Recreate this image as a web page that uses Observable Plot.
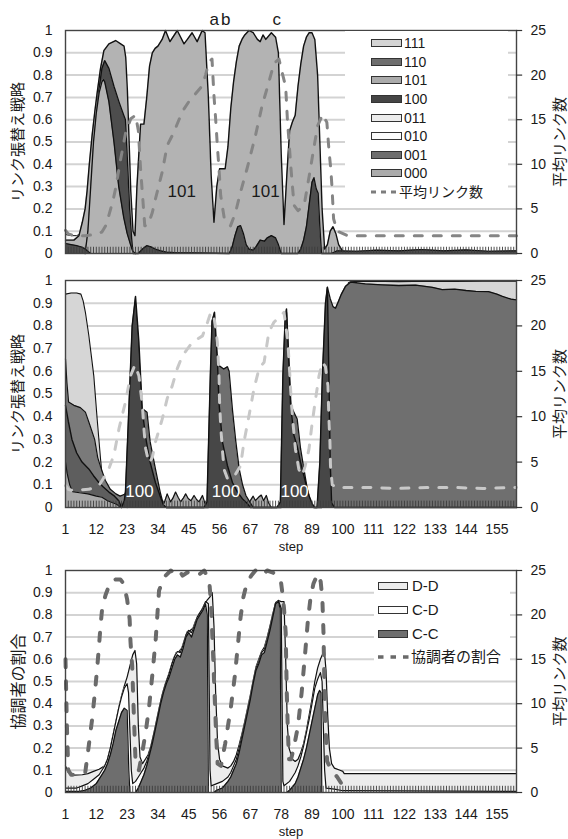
<!DOCTYPE html>
<html><head><meta charset="utf-8">
<script src="https://cdn.jsdelivr.net/npm/d3@7"></script>
<script src="https://cdn.jsdelivr.net/npm/@observablehq/plot@0.6"></script>
<style>
body{margin:0;background:#fff;}
#c{position:relative;width:568px;height:839px;background:#fff;overflow:hidden;font-family:"Liberation Sans","Noto Sans CJK JP",sans-serif;color:#1a1a1a;}
.leg{position:absolute;background:#fff;}
.lt{position:absolute;white-space:nowrap;line-height:16px;}
.sw{position:absolute;border:1px solid #333;box-sizing:border-box;}
</style></head><body><div id="c"></div><script>
// ---------- axes / ticks ----------
const yTicks = [0,0.1,0.2,0.3,0.4,0.5,0.6,0.7,0.8,0.9,1];
const yTickLabels = ["0","0.1","0.2","0.3","0.4","0.5","0.6","0.7","0.8","0.9","1"];
const gridVals = [0.1,0.2,0.3,0.4,0.5,0.6,0.7,0.8,0.9];
const rightTicks = [0,5,10,15,20,25];
const xTicks = [1,12,23,34,45,56,67,78,89,100,111,122,133,144,155];

// ---------- panel 1 (strategy shares, [step, value]) ----------
const p1_010 = [[1,0.085],[3,0.08],[5,0.08],[6.5,0.09],[8,0.05],[9,0]];
const p1_101 = [[1,0.06],[4,0.06],[5.8,0.08],[7,0.14],[8,0.2],[8.7,0.28],[9.5,0.4],[10.5,0.53],[11.5,0.64],[12.3,0.72],[13.5,0.83],[14.7,0.91],[16.5,0.94],[18.9,0.955],[20.7,0.94],[21.9,0.93],[22.5,0.88],[23.1,0.73],[24.3,0.28],[25.1,0.1],[25.8,0.08],[26.5,0.3],[27.8,0.58],[29,0.58],[30,0.7],[31,0.84],[32,0.9],[33,0.92],[34,0.93],[35.5,0.96],[36.7,1.0],[38.3,0.95],[40.9,1.0],[43.3,0.94],[44.5,0.96],[46.2,0.99],[48,0.95],[49.8,1.0],[50.8,0.99],[52,0.7],[53,0.35],[54,0.14],[55,0.3],[56,0.38],[58,0.38],[59,0.48],[60,0.65],[61,0.77],[62,0.86],[63,0.93],[64,0.96],[65,0.98],[66.5,1.0],[68,0.99],[69.5,0.96],[70.5,0.95],[71.5,0.98],[72.5,0.96],[74.5,0.99],[76,0.97],[77,0.9],[78,0.45],[79,0.13],[80,0.35],[81,0.55],[82,0.59],[83,0.62],[84,0.75],[85,0.85],[86,0.93],[87,0.97],[88,0.99],[89,0.99],[90,0.96],[91,0.8],[91.8,0.5],[92.6,0.2],[93.5,0.02],[94.5,0.04],[95.5,0.1],[96.5,0.12],[97.5,0.09],[98.5,0.04],[100,0.01],[101,0.005],[162,0.005]];
const p1_100 = [[8,0],[9,0.08],[10,0.27],[11,0.47],[12,0.62],[13,0.74],[14,0.83],[15,0.865],[16.5,0.83],[18.3,0.75],[20.1,0.68],[21.8,0.62],[22.4,0.6],[23.1,0.42],[23.9,0.2],[24.6,0.07],[25.1,0],[27,0],[28.5,0.02],[30,0.035],[31.5,0.03],[33,0.02],[35,0.012],[37,0.006],[40,0.004],[59.5,0],[60.5,0.03],[61.5,0.08],[62.5,0.12],[63.5,0.125],[64.5,0.09],[65.5,0.04],[66.5,0.02],[68,0.015],[69,0.03],[70.5,0.06],[72,0.055],[73,0.07],[74.5,0.08],[76,0.07],[77,0.04],[78,0],[84,0],[85,0.02],[86,0.06],[87,0.12],[88,0.22],[89,0.32],[89.7,0.34],[90.5,0.29],[91.2,0.27],[91.8,0.12],[92.4,0],[162,0]];
const p1_000 = [[8,0],[9,0.1],[10,0.3],[11,0.5],[12,0.63],[13,0.72],[14,0.77],[14.5,0.78],[15,0.77],[16.5,0.68],[18.3,0.5],[20,0.3],[21.8,0.16],[23,0.09],[24.2,0.04],[25,0.01],[26,0]];
const p1_001 = [[1,0.045],[3,0.04],[5,0.035],[7,0.028],[8,0.02],[9,0.01],[10,0],[96,0],[98,0.012],[105,0.01],[112,0.015],[120,0.012],[128,0.018],[136,0.012],[144,0.016],[152,0.01],[162,0.012]];
const p1Links = [[1,2.6],[2,2.2],[4,2.0],[8,2.0],[11,2.1],[14,2.4],[15.5,3.2],[16.5,4.3],[18,6],[18.9,7.3],[20.7,10.6],[22.5,13.6],[24.3,15.1],[26,15.5],[27,13.8],[27.8,9.5],[28.6,6.1],[29.3,3.1],[30.5,3.2],[32,4.6],[33.1,6.1],[35.5,9.1],[37.3,12.1],[39.7,13.6],[41.5,15],[43.3,16.2],[45.6,17.3],[47.4,17.9],[49.8,18.8],[51,20],[52.1,21.4],[53.3,21.8],[54,17.7],[54.6,15.1],[55.2,12.1],[55.8,9.5],[56.4,6.5],[57.7,3.9],[59.9,3.1],[61.7,4.6],[63.5,6.9],[65.8,9.5],[68.8,13.2],[71.2,16.6],[73.6,19.2],[75.4,21.3],[77.2,21.8],[78.4,20.2],[79.6,18.7],[80.2,15.1],[80.8,12.5],[81.4,9.9],[82,7.6],[82.6,5.4],[84,4.8],[86.2,5.4],[88,8.7],[89.8,12.1],[91,14.3],[92.8,15.6],[94.3,14.7],[95.1,11.4],[95.7,9.5],[96.1,7.6],[96.4,5.8],[96.7,3.9],[98,2.5],[101.7,2.0],[162,2.0]];
const p1Notes = [{s:42.5,v:0.276,t:"101"},{s:72.4,v:0.276,t:"101"}];
const p1Marks = [{s:54.1,v:1.05,t:"a"},{s:58.2,v:1.05,t:"b"},{s:76.4,v:1.05,t:"c"}];
const p1Legend = [["111","#d4d4d4"],["110","#6e6e6e"],["101","#ababab"],["100","#454545"],["011","#ececec"],["010","#fbfbfb"],["001","#6e6e6e"],["000","#ababab"]];

// ---------- panel 2 ----------
const p2Light = [[1,0.94],[3,0.945],[5,0.945],[6.5,0.94],[7.3,0.91],[8.1,0.86],[9.3,0.76],[10.2,0.67],[11.1,0.58],[12.3,0.39],[13.5,0.215],[14.3,0.11],[15.5,0.07],[17,0.04],[19,0.02],[21,0.01],[23,0],[101,0],[102,0.99],[103,0.996],[110,0.997],[120,0.995],[130,0.997],[140,0.996],[150,0.997],[162,0.997]];
const p2MidA = [[1,0.655],[1.5,0.55],[2.1,0.465],[4,0.45],[6.3,0.44],[8.1,0.42],[9.5,0.37],[11.4,0.3],[12.5,0.22],[13.5,0.18],[15.2,0.12],[17,0.08],[19,0.06],[20.5,0.05],[21.5,0.055],[22.4,0.06],[23,0]];
const p2MidB = [[1,0.45],[2,0.38],[3.3,0.3],[5,0.24],[6.9,0.2],[9.3,0.17],[11,0.14],[12.9,0.11],[14.5,0.09],[16.5,0.068],[18.5,0.05],[20,0.03],[21,0]];
const p2Pale = [[1,0.2],[1.6,0.15],[2.5,0.1],[3.5,0.07],[6,0.065],[9,0.06],[12,0.05],[14,0.045],[16,0.03],[19,0.015],[21,0]];
const p2Bumps = [[35.5,0],[36.5,0.03],[37.3,0.06],[38.5,0.025],[39.3,0.04],[40.3,0.068],[41.2,0.045],[42.1,0.025],[43,0.04],[43.9,0.06],[44.8,0.04],[45.8,0.03],[46.9,0.053],[47.8,0.035],[48.7,0.025],[49.9,0.053],[50.5,0.03],[51.1,0],[66,0],[67,0.03],[68,0.05],[68.8,0.03],[70,0.046],[70.9,0.055],[71.7,0.03],[72.7,0.053],[73.5,0.02],[74.5,0]];
const p2Mid = [[23,0],[24,0.4],[25,0.8],[26,0.9],[27,0.72],[28.3,0.43],[29,0.43],[30.1,0.42],[31.2,0.29],[33.1,0.17],[34.8,0.068],[36,0.01],[37,0],[52,0],[53,0.6],[54,0.84],[55,0.68],[55.8,0.625],[57.5,0.61],[58.8,0.62],[59.4,0.6],[60.6,0.43],[61.8,0.29],[63,0.17],[64.2,0.1],[65.4,0.053],[67.2,0.016],[68,0],[78,0],[79,0.6],[79.9,0.86],[80.7,0.65],[81.5,0.45],[82.5,0.42],[83.7,0.39],[84.9,0.26],[86.1,0.17],[87.3,0.082],[88.5,0.024],[89.5,0],[92.5,0],[93.2,0.3],[94,0.8],[94.5,0.97],[95.5,0.92],[96.5,0.885],[97.4,0.878],[98.5,0.91],[99.5,0.94],[101,0.975],[102.8,0.993],[105,0.99],[108,0.985],[114,0.981],[120,0.978],[126,0.98],[132,0.97],[135.5,0.96],[140,0.962],[144,0.956],[147.5,0.952],[152,0.951],[155,0.94],[157,0.93],[160,0.918],[162,0.915]];
const p2Dark = [[21,0],[22,0.03],[22.4,0.07],[23.6,0.43],[24.8,0.8],[26,0.93],[27.2,0.73],[28.4,0.43],[29.6,0.31],[31.2,0.2],[33.1,0.11],[34.8,0.05],[36,0.01],[37,0],[50.5,0],[51.5,0.024],[52.7,0.58],[53.3,0.82],[54.2,0.86],[55.2,0.655],[55.8,0.46],[57,0.29],[58.8,0.185],[60.6,0.11],[62.4,0.068],[64.2,0.038],[66,0.016],[67,0],[76.5,0],[77.7,0.024],[78.6,0.58],[79.4,0.83],[79.9,0.875],[80.7,0.655],[81.3,0.46],[82.5,0.32],[83.7,0.27],[84.9,0.2],[86.7,0.11],[87.9,0.053],[89.1,0.016],[90,0],[90.8,0],[91.8,0.2],[92.7,0.58],[93.8,0.9],[94.5,0.97],[95,0.6],[95.5,0.2],[96,0.02],[97,0],[162,0]];
const p2Links = [[1,2.4],[2,2.0],[3.2,1.9],[9.3,2.0],[12.9,2.4],[14.5,3.2],[16.5,4.3],[18.3,5.8],[20.1,8.7],[21.2,10.1],[22.4,11.6],[24.2,14.5],[25.8,15.7],[27.2,14.5],[28.4,11.4],[29,8.7],[29.6,6.5],[30.8,4.9],[32,5.5],[33.1,7.2],[35.5,9.7],[37.3,12],[39.1,13.4],[40.9,15.3],[42.7,16.7],[46.3,18.2],[49.9,18.9],[51.7,20.4],[52.9,21.5],[53.8,21.3],[54.6,19.8],[55.2,18.2],[55.8,14.5],[56,11.6],[56.4,9],[57,6.4],[57.6,4.2],[58.8,3.2],[61,3.3],[63.5,4.6],[64.7,7.2],[66.5,10.1],[68.3,13.1],[70.1,15.3],[71.9,16],[73.6,19.3],[75.4,20.4],[77.8,21.1],[79,21.5],[80.4,18.2],[81.1,14.5],[81.6,11.6],[82.3,9],[83.1,6.4],[84.3,4.2],[85.5,3.5],[86.5,4.5],[87.9,6.4],[89.1,9.4],[90.3,12],[91.5,14.5],[92.7,16],[93.8,15.5],[94.7,13.4],[95,10.1],[95.4,7.2],[95.6,4.6],[96.2,2.5],[98,2.2],[110,2.2],[120,2.1],[130,2.2],[140,2.2],[150,2.1],[162,2.2]];
const p2Notes = [{s:27.4,v:0.07,t:"100"},{s:58.3,v:0.07,t:"100"},{s:82.8,v:0.07,t:"100"}];

// ---------- panel 3 ----------
const p3DD = [[1,0.12],[2,0.09],[4,0.078],[7,0.08],[9,0.085],[11,0.095],[13,0.105],[15,0.12],[16,0.15],[17,0.2],[18,0.26],[19,0.32],[20,0.38],[21,0.435],[22,0.48],[23,0.52],[24,0.57],[25,0.62],[25.8,0.64],[26.4,0.58],[27,0.3],[27.6,0.16],[28.5,0.13],[29.5,0.15],[30.5,0.17],[31.5,0.21],[32.5,0.265],[33.5,0.325],[34.5,0.385],[35.5,0.44],[36.5,0.485],[37.5,0.52],[38.5,0.56],[39.5,0.6],[40.5,0.63],[41.5,0.635],[42.5,0.65],[43.5,0.69],[44.5,0.725],[45.5,0.73],[46.5,0.74],[47.5,0.775],[48.5,0.8],[49.5,0.82],[50.5,0.845],[51.5,0.865],[52.5,0.88],[53.4,0.9],[54,0.75],[54.6,0.45],[55.3,0.22],[56,0.15],[57,0.12],[59,0.11],[60,0.12],[61,0.14],[62,0.17],[63,0.215],[64,0.265],[65,0.32],[66,0.38],[67,0.44],[68,0.505],[69,0.565],[70,0.6],[71,0.635],[72,0.655],[73,0.7],[74,0.75],[75,0.805],[76,0.855],[77,0.865],[78,0.86],[79,0.86],[79.6,0.6],[80.2,0.3],[80.8,0.2],[82,0.15],[83,0.14],[84,0.15],[85,0.18],[86,0.22],[87,0.28],[88,0.35],[89,0.42],[90,0.5],[91,0.56],[92,0.6],[93,0.63],[93.4,0.64],[94,0.55],[94.6,0.35],[95.2,0.2],[96,0.13],[97,0.11],[99,0.1],[100,0.095],[100.5,0.085],[162,0.085]];
const p3CD = [[1,0.02],[5,0.02],[7,0.03],[9,0.04],[11,0.06],[13,0.08],[14,0.1],[15,0.12],[16,0.15],[17,0.2],[18,0.26],[19,0.32],[20,0.38],[21,0.43],[22,0.47],[23,0.49],[23.5,0.45],[24.5,0.1],[25,0.04],[26,0.05],[27,0.07],[28,0.09],[29,0.11],[30,0.14],[31,0.18],[32,0.235],[33,0.29],[34,0.35],[35,0.41],[36,0.46],[37,0.5],[38,0.535],[39,0.58],[40,0.615],[41,0.635],[42,0.63],[43,0.665],[44,0.71],[45,0.73],[46,0.72],[47,0.75],[48,0.79],[49,0.81],[50,0.83],[51,0.86],[52,0.85],[52.6,0.1],[53,0.03],[55,0.04],[57,0.05],[59,0.07],[60,0.09],[61,0.12],[62,0.15],[63,0.2],[64,0.255],[65,0.31],[66,0.37],[67,0.43],[68,0.5],[69,0.56],[70,0.59],[71,0.63],[72,0.645],[73,0.69],[74,0.74],[75,0.8],[76,0.855],[77,0.865],[78,0.83],[78.6,0.05],[79,0.03],[81,0.05],[82,0.07],[83,0.09],[84,0.12],[85,0.16],[86,0.21],[87,0.27],[88,0.33],[89,0.4],[90,0.47],[91,0.51],[92,0.54],[92.6,0.5],[93.5,0.1],[94,0.02],[97,0.015],[100,0.008],[162,0.005]];
const p3CC = [[1,0.005],[6,0.005],[8,0.01],[10,0.02],[12,0.04],[13,0.06],[14,0.08],[15,0.1],[16,0.13],[17,0.17],[18,0.22],[19,0.28],[20,0.32],[21,0.36],[22,0.38],[23,0.37],[23.6,0.1],[24,0],[26,0],[27,0.02],[28,0.05],[29,0.08],[30,0.12],[31,0.17],[32,0.22],[33,0.28],[34,0.34],[35,0.4],[36,0.45],[37,0.49],[38,0.52],[39,0.56],[40,0.6],[41,0.62],[42,0.61],[43,0.65],[44,0.7],[45,0.72],[46,0.7],[47,0.74],[48,0.78],[49,0.8],[50,0.82],[51,0.85],[51.6,0.8],[52,0],[54,0],[55,0.01],[57,0.02],[59,0.05],[60,0.07],[61,0.1],[62,0.13],[63,0.18],[64,0.24],[65,0.3],[66,0.36],[67,0.42],[68,0.49],[69,0.55],[70,0.58],[71,0.62],[72,0.63],[73,0.68],[74,0.73],[75,0.79],[76,0.85],[77,0.86],[77.6,0.83],[78,0],[80,0],[81,0.01],[83,0.04],[84,0.07],[85,0.11],[86,0.15],[87,0.2],[88,0.26],[89,0.32],[90,0.38],[91,0.44],[91.7,0.46],[92.2,0.45],[92.5,0],[162,0]];
const p3Coop = [[1,0.6],[1.5,0.3],[2,0.1],[3,0.08],[5,0.08],[8,0.085],[9.3,0.21],[10.5,0.33],[11.5,0.45],[12.3,0.56],[12.9,0.65],[13.5,0.75],[14.1,0.83],[15.3,0.89],[17.1,0.95],[19,0.96],[20.6,0.96],[21.8,0.94],[23,0.87],[23.9,0.78],[24.2,0.68],[24.8,0.57],[25.4,0.35],[26,0.14],[27.2,0.1],[28.4,0.18],[29.6,0.27],[30.8,0.38],[32,0.53],[33.2,0.69],[33.8,0.8],[34.4,0.91],[36.2,0.97],[38.6,1.0],[39.8,0.985],[41.6,1.0],[42.8,0.977],[44.6,0.992],[46.4,0.977],[48.2,0.977],[50.5,1.0],[52.3,0.955],[52.9,0.86],[53.6,0.65],[54.2,0.45],[54.8,0.25],[55.3,0.13],[56.5,0.12],[58,0.22],[60,0.38],[61.5,0.53],[62.5,0.66],[63.5,0.79],[64.5,0.88],[65.8,0.947],[67.5,0.98],[68.8,1.0],[70,0.99],[71.2,0.977],[73,1.0],[74.8,0.992],[76.5,0.98],[77.8,0.962],[78.4,0.9],[79,0.83],[79.6,0.72],[80,0.45],[80.4,0.27],[80.8,0.15],[81.5,0.15],[82.5,0.2],[84,0.3],[85.3,0.45],[86.5,0.62],[87.5,0.77],[88.5,0.88],[89.5,0.94],[91,0.985],[92.1,0.95],[92.7,0.87],[93.1,0.72],[93.4,0.5],[93.8,0.3],[94.4,0.14],[96,0.1],[98,0.07],[99.5,0.04],[100.5,0.02]];
const p3Legend = [["D-D","#ececec"],["C-D","#fdfdfd"],["C-C","#6e6e6e"]];

// ---------- drawing ----------
const FONT = '"Liberation Sans","Noto Sans CJK JP",sans-serif';
const root = document.getElementById("c");
const fx = d => d[0], fy = d => d[1];
const steps = d3.range(1, 163);

function area(data, fill, sw = 1.3) {
  return [
    Plot.areaY(data, {x: fx, y1: 0, y2: fy, fill}),
    Plot.lineY(data, {x: fx, y: fy, stroke: "#111", strokeWidth: sw, strokeLinejoin: "round"})
  ];
}
function grid() { return Plot.ruleY(gridVals, {stroke: "#d3d3d3", strokeWidth: 2}); }
function catTicks() { return Plot.ruleX(steps, {x: d => d, y1: 0, y2: 0.028, stroke: "#3c3c3c", strokeWidth: 0.9}); }
function axes(leftTitle, rightTitle, showX, tickDy, stepDy, leftSize) {
  const m = [
    Plot.frame({stroke: "#444", strokeWidth: 1.4}),
    Plot.ruleY(rightTicks, {y: d => d / 25, x1: 162, x2: 164.2, stroke: "#333", strokeWidth: 1.2}),
    Plot.text(yTickLabels, {x: 1, y: (d, i) => yTicks[i], text: d => d, dx: -13, textAnchor: "end", fontSize: 14, fill: "#1a1a1a"}),
    Plot.text(rightTicks, {x: 162, y: d => d / 25, text: d => String(d), dx: 14, textAnchor: "start", fontSize: 14, fill: "#1a1a1a"}),
    Plot.text([leftTitle], {x: 1, y: 0.5, text: d => d, dx: -47, rotate: -90, fontSize: leftSize, fill: "#1a1a1a"}),
    Plot.text([rightTitle], {x: 162, y: 0.5, text: d => d, dx: 44, rotate: -90, fontSize: 15, fill: "#1a1a1a"})
  ];
  if (showX) {
    m.push(Plot.text(xTicks, {x: d => d, y: 0, text: d => String(d), dy: tickDy, fontSize: 14, fill: "#1a1a1a"}));
    m.push(Plot.text(["step"], {x: 81.5, y: 0, text: d => d, dy: stepDy, fontSize: 13, fill: "#1a1a1a"}));
  }
  return m;
}
function mount(top, height, mt, mb, marks) {
  const svg = Plot.plot({
    width: 568, height, marginTop: mt, marginBottom: mb, marginLeft: 65, marginRight: 52,
    x: {type: "linear", domain: [1, 162], axis: null},
    y: {type: "linear", domain: [0, 1], axis: null},
    style: {fontFamily: FONT, background: "none", overflow: "visible", color: "#1a1a1a"},
    marks
  });
  svg.style.position = "absolute"; svg.style.left = "0px"; svg.style.top = top + "px";
  root.appendChild(svg);
}

// panel 1
mount(0, 260, 30, 7, [
  grid(),
  area(p1_010, "#f6f6f6", 1),
  area(p1_101, "#b3b3b3", 1.4),
  area(p1_100, "#4d4d4d", 1.3),
  area(p1_000, "#b3b3b3", 1.3),
  area(p1_001, "#4d4d4d", 1.2),
  catTicks(),
  Plot.lineY(p1Links, {x: fx, y: d => d[1] / 25, stroke: "#858585", strokeWidth: 3, strokeDasharray: "8,11"}),
  axes("リンク張替え戦略", "平均リンク数", false, 0, 0, 15),
  Plot.text(p1Notes, {x: "s", y: "v", text: "t", fontSize: 17, fill: "#1a1a1a"}),
  Plot.text(p1Marks, {x: "s", y: "v", text: "t", fontSize: 17, fill: "#1a1a1a"})
]);

// panel 2
mount(260, 295, 20, 48, [
  grid(),
  area(p2Light, "#d6d6d6", 1.1),
  area(p2MidA, "#7a7a7a", 1.2),
  area(p2MidB, "#5e5e5e", 1.4),
  area(p2Pale, "#a8a8a8", 1.1),
  area(p2Bumps, "#a8a8a8", 1.2),
  area(p2Mid, "#6f6f6f", 1.3),
  area(p2Dark, "#474747", 1.4),
  catTicks(),
  Plot.lineY(p2Links, {x: fx, y: d => d[1] / 25, stroke: "#c8c8c8", strokeWidth: 3, strokeDasharray: "8,11"}),
  axes("リンク張替え戦略", "平均リンク数", true, 22, 39, 15),
  Plot.text(p2Notes, {x: "s", y: "v", text: "t", fontSize: 17, fill: "#ffffff"})
]);

// panel 3
mount(555, 284, 15, 47, [
  grid(),
  area(p3DD, "#ececec", 1.2),
  area(p3CD, "#fdfdfd", 1.2),
  area(p3CC, "#6e6e6e", 1.2),
  catTicks(),
  Plot.lineY(p3Coop, {x: fx, y: fy, stroke: "#6a6a6a", strokeWidth: 4, strokeDasharray: "8,14"}),
  axes("協調者の割合", "平均リンク数", true, 22, 39, 16)
]);

// legends
function legend(box, rows, o) {
  const div = document.createElement("div");
  div.className = "leg";
  Object.assign(div.style, {left: box[0] + "px", top: box[1] + "px", width: box[2] + "px", height: box[3] + "px"});
  root.appendChild(div);
  rows.forEach((r, i) => {
    const cy = o.y0 + i * o.dy - box[1];
    const sw = document.createElement("div");
    sw.className = "sw";
    Object.assign(sw.style, {left: (o.sx - box[0]) + "px", top: (cy - 4) + "px", width: o.sw + "px", height: "8px", background: r[1]});
    div.appendChild(sw);
    const t = document.createElement("div");
    t.className = "lt"; t.textContent = r[0];
    Object.assign(t.style, {left: (o.tx - box[0]) + "px", top: (cy - 8) + "px", fontSize: o.fs + "px"});
    div.appendChild(t);
  });
  const cy = o.y0 + rows.length * o.dy - box[1];
  const ns = "http://www.w3.org/2000/svg";
  const s = document.createElementNS(ns, "svg");
  s.setAttribute("width", o.dw); s.setAttribute("height", 6);
  Object.assign(s.style, {position: "absolute", left: (o.sx - box[0]) + "px", top: (cy - 3) + "px"});
  const l = document.createElementNS(ns, "line");
  l.setAttribute("x1", 0); l.setAttribute("x2", o.dw); l.setAttribute("y1", 3); l.setAttribute("y2", 3);
  l.setAttribute("stroke", o.dc); l.setAttribute("stroke-width", o.dwid); l.setAttribute("stroke-dasharray", o.dash);
  s.appendChild(l); div.appendChild(s);
  const t = document.createElement("div");
  t.className = "lt"; t.textContent = o.dl;
  Object.assign(t.style, {left: (o.dtx - box[0]) + "px", top: (cy - 8) + "px", fontSize: o.fs + "px"});
  div.appendChild(t);
}
legend([345, 31, 163, 172], p1Legend, {y0: 43.3, dy: 18.55, sx: 371, sw: 31, tx: 404, fs: 14, dw: 27, dc: "#7d7d7d", dwid: 3, dash: "5,5", dl: "平均リンク数", dtx: 399});
legend([374, 572, 136, 100], p3Legend, {y0: 585.7, dy: 23.9, sx: 378, sw: 30, tx: 412, fs: 15, dw: 31, dc: "#6a6a6a", dwid: 3.5, dash: "5.5,7", dl: "協調者の割合", dtx: 411});
</script></body></html>
